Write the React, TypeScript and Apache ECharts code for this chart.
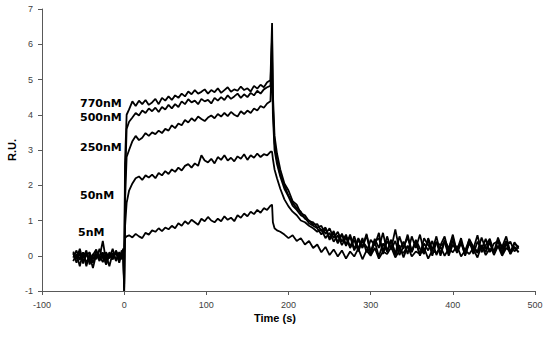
import React, { useEffect, useRef } from "react";
import * as echarts from "echarts";

const T = [-62,-58,-54,-50,-46,-42,-38,-34,-30,-26,-22,-18,-14,-10,-6,-3,-1,
  0,1,3,
  6,10,14,18,22,26,30,34,38,42,46,50,54,58,62,66,70,74,78,82,86,90,94,98,102,106,110,114,118,122,126,130,134,138,142,146,150,154,158,162,166,170,174,178,
  180,181,183,186,
  190,195,200,205,210,215,220,225,230,235,240,245,250,255,260,265,270,275,280,285,290,295,300,305,310,315,320,325,330,335,340,345,350,355,360,365,370,375,380,385,390,395,400,405,410,415,420,425,430,435,440,445,450,455,460,465,470,475,480];

const s770 = [0.12,-0.08,0.05,-0.22,0.1,-0.15,0.02,0.18,-0.12,0.06,-0.25,0.1,-0.05,0.08,-0.12,0.15,0.05,
  -1.0,2.6,4.0,
  4.15,4.38,4.25,4.4,4.3,4.42,4.28,4.35,4.45,4.3,4.48,4.4,4.52,4.42,4.55,4.48,4.6,4.52,4.66,4.58,4.7,4.6,4.65,4.72,4.6,4.7,4.64,4.75,4.62,4.7,4.78,4.65,4.72,4.68,4.8,4.7,4.75,4.66,4.82,4.74,4.85,4.78,4.92,4.98,
  6.6,4.6,3.4,2.9,
  2.45,2.05,1.85,1.55,1.45,1.2,1.15,0.98,0.95,0.8,
  0.85,0.62,0.78,0.5,0.68,0.4,0.6,0.25,0.55,0.2,
  0.5,0.1,0.45,0.3,0.65,0.05,0.42,0.2,0.75,0.15,
  0.4,0.05,0.55,0.22,0.6,0.1,0.45,0.0,0.38,0.3,
  0.55,0.08,0.42,0.15,0.5,0.05,0.4,0.2,0.58,0.1,
  0.3,0.48,0.1,0.52,0.18,0.42,0.05,0.35,0.25];

const s500 = [-0.05,0.15,-0.12,0.08,-0.3,0.05,-0.1,0.12,0.0,-0.18,0.1,-0.08,0.2,-0.15,0.05,-0.1,0.1,
  -0.9,2.0,3.6,
  3.8,3.92,4.05,3.98,4.12,4.05,4.18,4.1,4.2,4.08,4.22,4.15,4.28,4.18,4.3,4.22,4.38,4.3,4.44,4.35,4.4,4.3,4.45,4.38,4.42,4.32,4.48,4.4,4.5,4.42,4.55,4.45,4.52,4.6,4.48,4.58,4.5,4.62,4.55,4.68,4.6,4.72,4.78,4.82,
  6.2,4.3,3.2,2.7,
  2.3,2.0,1.7,1.5,1.35,1.25,1.05,1.0,0.88,0.9,
  0.7,0.8,0.5,0.7,0.38,0.62,0.3,0.6,0.18,0.5,
  0.25,0.62,0.1,0.48,0.22,0.65,0.12,0.45,0.05,0.55,
  0.2,0.6,0.12,0.42,0.02,0.5,0.3,0.15,0.55,0.05,
  0.45,0.2,0.6,0.1,0.4,0.0,0.48,0.25,0.12,0.52,
  0.18,0.42,0.05,0.45,0.25,0.55,0.1,0.38,0.2];

const s250 = [0.08,-0.2,0.1,-0.05,0.15,-0.25,0.05,-0.1,0.2,-0.08,0.02,-0.3,0.08,-0.12,0.1,-0.05,0.0,
  -1.0,1.5,2.8,
  3.0,3.25,3.4,3.28,3.35,3.48,3.4,3.5,3.45,3.55,3.48,3.6,3.55,3.7,3.62,3.75,3.7,3.85,3.78,3.9,3.82,3.95,3.88,3.82,3.92,3.98,3.9,4.02,3.95,4.05,3.96,4.08,4.0,3.95,4.1,4.02,4.12,4.05,4.18,4.12,4.25,4.2,4.32,4.38,
  5.6,4.0,3.0,2.6,
  2.25,1.9,1.68,1.42,1.3,1.15,1.08,0.92,0.85,0.78,
  0.6,0.78,0.45,0.65,0.35,0.62,0.28,0.55,0.15,0.45,
  0.22,0.58,0.08,0.4,0.5,0.12,0.55,0.18,0.42,0.02,
  0.25,0.52,0.12,0.45,0.2,0.05,0.5,0.18,0.4,0.0,
  0.42,0.2,0.52,0.08,0.35,0.15,0.45,0.05,0.4,0.18,
  0.48,0.1,0.35,0.42,0.05,0.32,0.4,0.12,0.28];

const s50 = [-0.15,0.05,-0.3,0.1,-0.2,0.0,-0.35,0.05,-0.15,0.1,-0.25,0.02,-0.1,0.12,-0.2,0.05,-0.05,
  -0.8,0.8,1.5,
  1.85,2.05,2.2,2.25,2.15,2.28,2.22,2.3,2.2,2.35,2.28,2.4,2.32,2.45,2.38,2.5,2.42,2.55,2.6,2.5,2.62,2.55,2.85,2.7,2.65,2.75,2.62,2.8,2.72,2.85,2.7,2.78,2.68,2.82,2.75,2.88,2.72,2.85,2.78,2.9,2.8,2.88,2.85,2.95,
  2.95,2.75,2.45,2.2,
  1.9,1.6,1.4,1.25,1.15,1.0,0.95,0.85,0.78,0.68,
  0.75,0.5,0.65,0.4,0.58,0.3,0.52,0.22,0.45,0.12,
  0.42,0.25,0.05,0.4,-0.02,0.35,0.12,0.45,0.02,0.3,
  -0.05,0.28,0.1,0.4,0.0,0.35,0.15,0.42,0.02,0.28,
  0.38,0.0,0.32,0.12,0.4,0.02,0.35,0.18,-0.05,0.3,
  0.1,0.38,0.02,0.28,0.12,0.35,0.05,0.25,0.1];

const s5 = [0.05,-0.1,0.2,-0.15,0.0,0.1,-0.2,0.05,-0.05,0.42,-0.15,0.05,-0.1,0.15,-0.05,0.08,0.2,
  0.1,0.5,0.55,
  0.58,0.52,0.62,0.55,0.5,0.65,0.6,0.72,0.68,0.78,0.7,0.8,0.75,0.85,0.78,0.92,0.85,0.98,0.9,1.02,0.95,0.88,1.05,0.98,1.1,1.0,0.95,1.05,0.98,1.12,1.02,1.08,0.98,1.15,1.08,1.2,1.12,1.25,1.18,1.3,1.22,1.35,1.3,1.42,
  1.45,0.95,0.78,0.72,
  0.68,0.6,0.5,0.58,0.42,0.5,0.32,0.42,0.22,0.32,
  0.1,0.25,0.02,0.18,-0.02,0.15,-0.08,0.12,-0.02,0.2,
  -0.1,0.15,0.0,0.22,-0.08,0.12,0.05,0.25,-0.05,0.15,
  0.08,0.28,-0.02,0.12,0.05,0.22,-0.08,0.15,0.08,0.25,
  0.0,0.2,0.1,0.28,-0.02,0.15,0.05,0.22,0.08,0.3,
  0.02,0.2,0.1,0.28,0.0,0.22,0.12,0.25,0.1];

const seriesNames = ["770nM", "500nM", "250nM", "50nM", "5nM"];
const seriesValues = [s770, s500, s250, s50, s5];

const xTitle = "Time (s)";
const yTitle = "R.U.";

export default function App() {
  const ref = useRef<HTMLDivElement>(null);
  useEffect(() => {
    if (!ref.current) return;
    const chart = echarts.init(ref.current, undefined, { renderer: "svg" });
    const axisColor = "#595959";
    const labelFont = { fontFamily: "Liberation Sans", fontSize: 9, color: "#404040" };
    const bold = "DejaVu Sans";
    chart.setOption({
      animation: false,
      grid: { left: 42, right: 15, top: 9, bottom: 46, containLabel: false },
      xAxis: {
        type: "value",
        min: -100,
        max: 500,
        interval: 100,
        axisLine: { show: true, onZero: false, lineStyle: { color: axisColor, width: 1 } },
        axisTick: { show: true, length: 4, lineStyle: { color: axisColor } },
        splitLine: { show: false },
        axisLabel: { ...labelFont, margin: 9 },
      },
      yAxis: {
        type: "value",
        min: -1,
        max: 7,
        interval: 1,
        axisLine: { show: true, onZero: false, lineStyle: { color: axisColor, width: 1 } },
        axisTick: { show: true, length: 4, lineStyle: { color: axisColor } },
        splitLine: { show: false },
        axisLabel: { ...labelFont, margin: 9 },
      },
      series: seriesValues.map((vals, i) => ({
        name: seriesNames[i],
        type: "line",
        showSymbol: false,
        symbol: "none",
        data: vals.map((v, j) => [T[j], v]),
        lineStyle: { color: "#000", width: 1.8 },
        z: 3,
      })),
      graphic: [
        { type: "text", left: 80, top: 98, style: { text: "770nM", font: `bold 11px "${bold}"`, fill: "#000" } },
        { type: "text", left: 80, top: 112, style: { text: "500nM", font: `bold 11px "${bold}"`, fill: "#000" } },
        { type: "text", left: 80, top: 142, style: { text: "250nM", font: `bold 11px "${bold}"`, fill: "#000" } },
        { type: "text", left: 80, top: 190, style: { text: "50nM", font: `bold 11px "${bold}"`, fill: "#000" } },
        { type: "text", left: 78, top: 227, style: { text: "5nM", font: `bold 11px "${bold}"`, fill: "#000" } },
        {
          type: "text",
          x: 275,
          y: 318,
          style: { text: xTitle, font: 'bold 11px "Liberation Sans"', fill: "#000", align: "center", verticalAlign: "middle" },
        },
        {
          type: "text",
          x: 12,
          y: 150,
          rotation: Math.PI / 2,
          style: { text: yTitle, font: 'bold 11px "Liberation Sans"', fill: "#000", align: "center", verticalAlign: "middle" },
        },
      ],
    });
    return () => chart.dispose();
  }, []);
  return <div ref={ref} style={{ width: 550, height: 337, position: "absolute", left: 0, top: 0 }} />;
}
